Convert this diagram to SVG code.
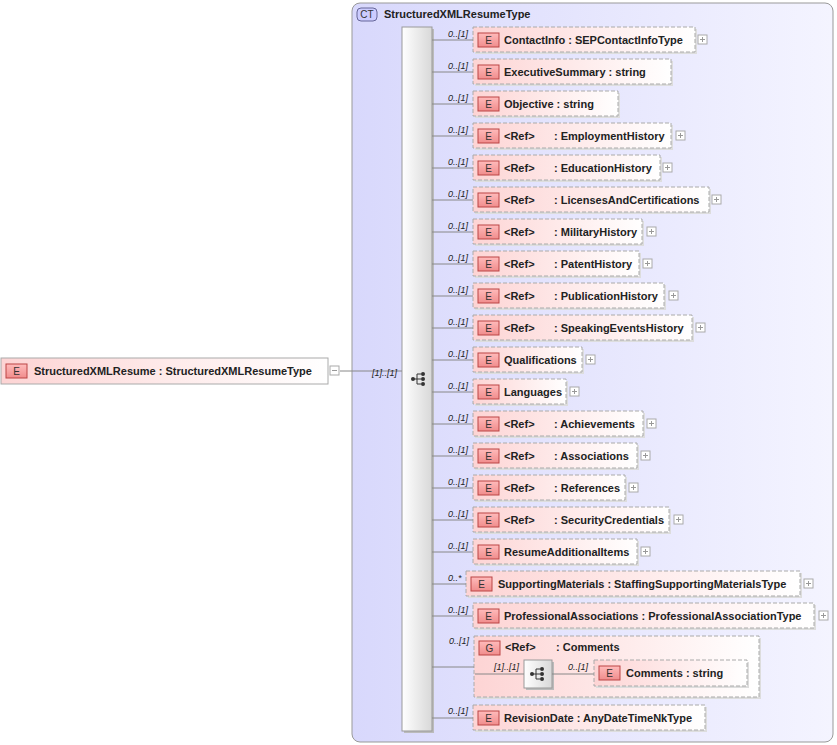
<svg xmlns="http://www.w3.org/2000/svg" width="837" height="745" viewBox="0 0 837 745">
<defs>
<linearGradient id="pk" x1="0" y1="0" x2="1" y2="0"><stop offset="0" stop-color="#fdd4d4"/><stop offset="1" stop-color="#ffffff"/></linearGradient>
<linearGradient id="ct" x1="0" y1="0" x2="1" y2="0"><stop offset="0" stop-color="#d8d8fc"/><stop offset="1" stop-color="#f4f4ff"/></linearGradient>
<linearGradient id="sq" x1="0" y1="0" x2="1" y2="0"><stop offset="0" stop-color="#ffffff"/><stop offset="1" stop-color="#d8d8d8"/></linearGradient>
<linearGradient id="bd" x1="0" y1="0" x2="0" y2="1"><stop offset="0" stop-color="#fbb"/><stop offset="1" stop-color="#f08c8c"/></linearGradient>
<g id="plus"><rect x="0" y="0" width="9" height="9" fill="#fff" stroke="#aaa"/><path d="M2 4.5h5M4.5 2v5" stroke="#999"/></g>
<g id="seqi"><circle cx="-7" cy="0" r="2" fill="#333"/><path d="M-7 0h4M-3 -5v10M-3 -5h4M-3 0h4M-3 5h4" stroke="#333" fill="none"/><circle cx="3" cy="-5" r="2" fill="#333"/><circle cx="3" cy="0" r="2" fill="#333"/><circle cx="3" cy="5" r="2" fill="#333"/></g>
</defs>
<style>
text{font-family:"Liberation Sans",Arial,sans-serif;font-size:11px;fill:#222}
.b{font-weight:bold}
.m{font-style:italic;font-size:9px}
.el{fill:url(#pk);stroke:#aaa;stroke-dasharray:4,2}
.sh{fill:#ddd}
.bg{fill:url(#bd);stroke:#b44}
.bt{font-size:10px;fill:#333}
.ln{stroke:#888;fill:none}
</style>
<rect x="352" y="3" width="481" height="739" rx="8" fill="url(#ct)" stroke="#999"/>
<rect x="357" y="8" width="20" height="13" rx="4" fill="#ccf" stroke="#669"/>
<text x="367" y="18" text-anchor="middle" class="bt">CT</text>
<text x="384" y="18" class="b">StructuredXMLResumeType</text>
<rect x="404" y="29" width="30" height="704" fill="#bbb"/>
<rect x="402" y="27" width="30" height="704" fill="url(#sq)" stroke="#999"/>
<use href="#seqi" x="420" y="379"/>

<g id="root">
<rect x="1" y="358" width="327" height="26" fill="url(#pk)" stroke="#aaa"/>
<rect x="6" y="364" width="21" height="14" class="bg"/><text x="16.5" y="375" text-anchor="middle" class="bt">E</text>
<text x="34" y="375" class="b">StructuredXMLResume : StructuredXMLResumeType</text>
<rect x="330" y="366" width="9" height="9" fill="#fff" stroke="#aaa"/><path d="M332 370.5h5" stroke="#999"/>
</g>

<g id="n1"><rect class="sh" x="475" y="29" width="222" height="25"/><rect class="el" x="473" y="27" width="222" height="25"/><rect x="478" y="33" width="21" height="14" class="bg"/><text x="488.5" y="44" text-anchor="middle" class="bt">E</text><text x="504" y="44" class="b">ContactInfo : SEPContactInfoType</text><use href="#plus" x="698" y="35"/></g>
<g id="n2"><rect class="sh" x="475" y="61" width="198" height="25"/><rect class="el" x="473" y="59" width="198" height="25"/><rect x="478" y="65" width="21" height="14" class="bg"/><text x="488.5" y="76" text-anchor="middle" class="bt">E</text><text x="504" y="76" class="b">ExecutiveSummary : string</text></g>
<g id="n3"><rect class="sh" x="475" y="93" width="145" height="25"/><rect class="el" x="473" y="91" width="145" height="25"/><rect x="478" y="97" width="21" height="14" class="bg"/><text x="488.5" y="108" text-anchor="middle" class="bt">E</text><text x="504" y="108" class="b">Objective : string</text></g>
<g id="n4"><rect class="sh" x="475" y="125" width="198" height="25"/><rect class="el" x="473" y="123" width="198" height="25"/><rect x="478" y="129" width="21" height="14" class="bg"/><text x="488.5" y="140" text-anchor="middle" class="bt">E</text><text x="504" y="140" class="b">&lt;Ref&gt;</text><text x="554" y="140" class="b">: EmploymentHistory</text><use href="#plus" x="676" y="131"/></g>
<g id="n5"><rect class="sh" x="475" y="157" width="187" height="25"/><rect class="el" x="473" y="155" width="187" height="25"/><rect x="478" y="161" width="21" height="14" class="bg"/><text x="488.5" y="172" text-anchor="middle" class="bt">E</text><text x="504" y="172" class="b">&lt;Ref&gt;</text><text x="554" y="172" class="b">: EducationHistory</text><use href="#plus" x="663" y="163"/></g>
<g id="n6"><rect class="sh" x="475" y="189" width="236" height="25"/><rect class="el" x="473" y="187" width="236" height="25"/><rect x="478" y="193" width="21" height="14" class="bg"/><text x="488.5" y="204" text-anchor="middle" class="bt">E</text><text x="504" y="204" class="b">&lt;Ref&gt;</text><text x="554" y="204" class="b">: LicensesAndCertifications</text><use href="#plus" x="712" y="195"/></g>
<g id="n7"><rect class="sh" x="475" y="221" width="169" height="25"/><rect class="el" x="473" y="219" width="169" height="25"/><rect x="478" y="225" width="21" height="14" class="bg"/><text x="488.5" y="236" text-anchor="middle" class="bt">E</text><text x="504" y="236" class="b">&lt;Ref&gt;</text><text x="554" y="236" class="b">: MilitaryHistory</text><use href="#plus" x="647" y="227"/></g>
<g id="n8"><rect class="sh" x="475" y="253" width="166" height="25"/><rect class="el" x="473" y="251" width="166" height="25"/><rect x="478" y="257" width="21" height="14" class="bg"/><text x="488.5" y="268" text-anchor="middle" class="bt">E</text><text x="504" y="268" class="b">&lt;Ref&gt;</text><text x="554" y="268" class="b">: PatentHistory</text><use href="#plus" x="643" y="259"/></g>
<g id="n9"><rect class="sh" x="475" y="285" width="191" height="25"/><rect class="el" x="473" y="283" width="191" height="25"/><rect x="478" y="289" width="21" height="14" class="bg"/><text x="488.5" y="300" text-anchor="middle" class="bt">E</text><text x="504" y="300" class="b">&lt;Ref&gt;</text><text x="554" y="300" class="b">: PublicationHistory</text><use href="#plus" x="669" y="291"/></g>
<g id="n10"><rect class="sh" x="475" y="317" width="219" height="25"/><rect class="el" x="473" y="315" width="219" height="25"/><rect x="478" y="321" width="21" height="14" class="bg"/><text x="488.5" y="332" text-anchor="middle" class="bt">E</text><text x="504" y="332" class="b">&lt;Ref&gt;</text><text x="554" y="332" class="b">: SpeakingEventsHistory</text><use href="#plus" x="696" y="323"/></g>
<g id="n11"><rect class="sh" x="475" y="349" width="109" height="25"/><rect class="el" x="473" y="347" width="109" height="25"/><rect x="478" y="353" width="21" height="14" class="bg"/><text x="488.5" y="364" text-anchor="middle" class="bt">E</text><text x="504" y="364" class="b">Qualifications</text><use href="#plus" x="586" y="355"/></g>
<g id="n12"><rect class="sh" x="475" y="381" width="93" height="25"/><rect class="el" x="473" y="379" width="93" height="25"/><rect x="478" y="385" width="21" height="14" class="bg"/><text x="488.5" y="396" text-anchor="middle" class="bt">E</text><text x="504" y="396" class="b">Languages</text><use href="#plus" x="570" y="387"/></g>
<g id="n13"><rect class="sh" x="475" y="413" width="170" height="25"/><rect class="el" x="473" y="411" width="170" height="25"/><rect x="478" y="417" width="21" height="14" class="bg"/><text x="488.5" y="428" text-anchor="middle" class="bt">E</text><text x="504" y="428" class="b">&lt;Ref&gt;</text><text x="554" y="428" class="b">: Achievements</text><use href="#plus" x="647" y="419"/></g>
<g id="n14"><rect class="sh" x="475" y="445" width="164" height="25"/><rect class="el" x="473" y="443" width="164" height="25"/><rect x="478" y="449" width="21" height="14" class="bg"/><text x="488.5" y="460" text-anchor="middle" class="bt">E</text><text x="504" y="460" class="b">&lt;Ref&gt;</text><text x="554" y="460" class="b">: Associations</text><use href="#plus" x="641" y="451"/></g>
<g id="n15"><rect class="sh" x="475" y="477" width="152" height="25"/><rect class="el" x="473" y="475" width="152" height="25"/><rect x="478" y="481" width="21" height="14" class="bg"/><text x="488.5" y="492" text-anchor="middle" class="bt">E</text><text x="504" y="492" class="b">&lt;Ref&gt;</text><text x="554" y="492" class="b">: References</text><use href="#plus" x="629" y="483"/></g>
<g id="n16"><rect class="sh" x="475" y="509" width="196" height="25"/><rect class="el" x="473" y="507" width="196" height="25"/><rect x="478" y="513" width="21" height="14" class="bg"/><text x="488.5" y="524" text-anchor="middle" class="bt">E</text><text x="504" y="524" class="b">&lt;Ref&gt;</text><text x="554" y="524" class="b">: SecurityCredentials</text><use href="#plus" x="674" y="515"/></g>
<g id="n17"><rect class="sh" x="475" y="541" width="164" height="25"/><rect class="el" x="473" y="539" width="164" height="25"/><rect x="478" y="545" width="21" height="14" class="bg"/><text x="488.5" y="556" text-anchor="middle" class="bt">E</text><text x="504" y="556" class="b">ResumeAdditionalItems</text><use href="#plus" x="641" y="547"/></g>
<g id="n18"><rect class="sh" x="468" y="573" width="334" height="25"/><rect class="el" x="466" y="571" width="334" height="25"/><rect x="471" y="577" width="21" height="14" class="bg"/><text x="481.5" y="588" text-anchor="middle" class="bt">E</text><text x="498" y="588" class="b">SupportingMaterials : StaffingSupportingMaterialsType</text><use href="#plus" x="804" y="579"/></g>
<g id="n19"><rect class="sh" x="475" y="605" width="341" height="25"/><rect class="el" x="473" y="603" width="341" height="25"/><rect x="478" y="609" width="21" height="14" class="bg"/><text x="488.5" y="620" text-anchor="middle" class="bt">E</text><text x="504" y="620" class="b">ProfessionalAssociations : ProfessionalAssociationType</text><use href="#plus" x="819" y="611"/></g>
<g id="g20"><rect class="sh" x="476" y="638" width="285" height="61"/><rect class="el" x="474" y="636" width="285" height="61"/><rect x="479" y="641" width="21" height="14" class="bg"/><text x="489.5" y="652" text-anchor="middle" class="bt">G</text><text x="505" y="651" class="b">&lt;Ref&gt;</text><text x="556" y="651" class="b">: Comments</text>
<rect x="526" y="662" width="28" height="28" fill="#bbb"/><rect x="524" y="660" width="28" height="28" fill="url(#sq)" stroke="#999"/><use href="#seqi" x="539" y="674"/>
<rect class="sh" x="596" y="662" width="153" height="26"/><rect class="el" x="594" y="660" width="153" height="26"/><rect x="599" y="666" width="21" height="14" class="bg"/><text x="609.5" y="677" text-anchor="middle" class="bt">E</text><text x="626" y="677" class="b">Comments : string</text></g>
<g id="n21"><rect class="sh" x="475" y="707" width="232" height="25"/><rect class="el" x="473" y="705" width="232" height="25"/><rect x="478" y="711" width="21" height="14" class="bg"/><text x="488.5" y="722" text-anchor="middle" class="bt">E</text><text x="504" y="722" class="b">RevisionDate : AnyDateTimeNkType</text></g>

<g id="connectors">
<path class="ln" d="M340 371H402"/>
<path class="ln" d="M432 40H473M432 72H473M432 104H473M432 136H473M432 168H473M432 200H473M432 232H473M432 264H473M432 296H473M432 328H473M432 360H473M432 392H473M432 424H473M432 456H473M432 488H473M432 520H473M432 552H473M432 584H466M432 616H473M432 667H474M432 718H473"/>
<path class="ln" d="M475 674H524M552 674H594"/>
<text x="372" y="376" class="m">[1]..[1]</text>
<text x="448" y="37" class="m">0..[1]</text><text x="448" y="69" class="m">0..[1]</text><text x="448" y="101" class="m">0..[1]</text><text x="448" y="133" class="m">0..[1]</text><text x="448" y="165" class="m">0..[1]</text><text x="448" y="197" class="m">0..[1]</text><text x="448" y="229" class="m">0..[1]</text><text x="448" y="261" class="m">0..[1]</text><text x="448" y="293" class="m">0..[1]</text><text x="448" y="325" class="m">0..[1]</text><text x="448" y="357" class="m">0..[1]</text><text x="448" y="389" class="m">0..[1]</text><text x="448" y="421" class="m">0..[1]</text><text x="448" y="453" class="m">0..[1]</text><text x="448" y="485" class="m">0..[1]</text><text x="448" y="517" class="m">0..[1]</text><text x="448" y="549" class="m">0..[1]</text><text x="448" y="581" class="m">0..*</text><text x="448" y="613" class="m">0..[1]</text><text x="449" y="644" class="m">0..[1]</text><text x="448" y="714" class="m">0..[1]</text>
<text x="494" y="670" class="m">[1]..[1]</text><text x="568" y="670" class="m">0..[1]</text>
</g>
</svg>
